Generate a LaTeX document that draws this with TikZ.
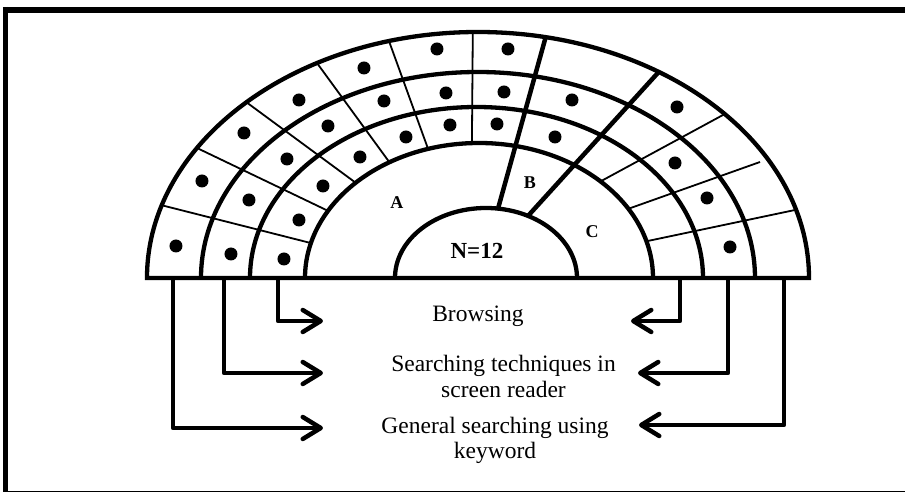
\documentclass[tikz,border=0pt]{standalone}
\usepackage{fontspec}
\setmainfont{Liberation Serif}
\usetikzlibrary{arrows.meta,calc}
\begin{document}
\begin{tikzpicture}[x=1pt,y=1pt,
  ring/.style={line width=4.3pt,line join=miter},
  cellline/.style={line width=1.8pt},
  sector/.style={line width=4.5pt},
  seat/.style={circle,fill=black,inner sep=0pt,minimum size=13pt},
  zone/.style={font=\bfseries\fontsize{18}{18}\selectfont,inner sep=0pt},
  caption/.style={align=center,font=\fontsize{23.5}{26}\selectfont,inner sep=0pt},
  link/.style={line width=4.5pt,line join=round,-{Straight Barb[length=18pt,width=22pt,round]}},
]
\useasboundingbox (-478,-214) rectangle (427,278);
% white page
\fill[white] (-478,-214) rectangle (427,278);

% frame: heavy top and left edges, hairline at the bottom
\draw[line width=6pt] (-475,268) -- (420,268) -- (427,268);
\draw[line width=5pt] (-472.5,271) -- (-472.5,-214);
\draw[line width=1.2pt] (-472.5,-213.4) -- (427,-213.4);

% rings of the half-round
\draw[ring] (-331,0) arc[start angle=180,end angle=0,x radius=331,y radius=246] -- cycle;
\draw[ring] (-277,0) arc[start angle=180,end angle=0,x radius=277,y radius=206];
\draw[ring] (-228,0) arc[start angle=180,end angle=0,x radius=226.5,y radius=171];
\draw[ring] (-173,0) arc[start angle=180,end angle=0,x radius=174,y radius=135];
\draw[ring] (-83,0) arc[start angle=180,end angle=0,x radius=91,y radius=70];

% cell dividers, left part
\draw[cellline] (162.8:331pt and 246pt) -- (164.9:174pt and 135pt);
\draw[cellline] (148.1:331pt and 246pt) -- (150.0:174pt and 135pt);
\draw[cellline] (134.4:331pt and 246pt) -- (134.9:174pt and 135pt);
\draw[cellline] (119.1:331pt and 246pt) -- (120.7:174pt and 135pt);
\draw[cellline] (105.6:331pt and 246pt) -- (106.7:174pt and 135pt);
\draw[cellline] (90.9:331pt and 246pt) -- (92.0:174pt and 135pt);

% cell dividers, right part
\draw[cellline] (41.8:331pt and 246pt) -- (45.5:174pt and 135pt);
\draw[cellline] (282,116) -- (30.7:174pt and 135pt);
\draw[cellline] (16.1:331pt and 246pt) -- (15.7:174pt and 135pt);

% sector boundaries of B
\draw[sector] (78.2:331pt and 246pt) -- ($(8,0)+(82.4:91pt and 70pt)$);
\draw[sector] (56.9:331pt and 246pt) -- ($(8,0)+(62.5:91pt and 70pt)$);

% seats, outer ring
\foreach \p [count=\i] in {(-302,32),(-276,97),(-234,145),(-179,178),(-114,210),(-41,229),(30,229),(199,171)}
  \node[seat] (outer\i) at \p {};
% seats, middle ring
\foreach \p [count=\i] in {(-247,24),(-229,78),(-191,119),(-150,152),(-94,177),(-32,185),(26,186),(94,178),(197,115),(229,80),(252,31)}
  \node[seat] (middle\i) at \p {};
% seats, inner ring
\foreach \p [count=\i] in {(-194,19),(-179,58),(-155,92),(-118,121),(-72,141),(-28,153),(19,154),(77,141)}
  \node[seat] (inner\i) at \p {};

% zone labels
\node[zone] (zoneA) at (-81,75) {A};
\node[zone] (zoneB) at (52,95) {B};
\node[zone] (zoneC) at (114,46) {C};
\node[font=\bfseries\fontsize{23}{23}\selectfont,inner sep=0pt] (core) at (-1,27) {N=12};

% captions (base anchor sits on the last line)
\node[caption,anchor=base] (browse) at (0,-44) {Browsing};
\node[caption,anchor=base] (technique) at (25.5,-120) {Searching techniques in\\screen reader};
\node[caption,anchor=base] (keyword) at (17,-181) {General searching using\\keyword};

% arrow ends
\coordinate (innerL) at (-200,0);
\coordinate (middleL) at (-254,0);
\coordinate (outerL) at (-305,0);
\coordinate (innerR) at (202,0);
\coordinate (middleR) at (250,0);
\coordinate (outerR) at (306,0);
\coordinate (browseL) at (-155,-43);
\coordinate (techniqueL) at (-155,-95);
\coordinate (keywordL) at (-155,-150);
\coordinate (browseR) at (153,-43);
\coordinate (techniqueR) at (160,-95);
\coordinate (keywordR) at (161,-147);

\draw[link] (innerL) |- (browseL);
\draw[link] (middleL) |- (techniqueL);
\draw[link] (outerL) |- (keywordL);
\draw[link] (innerR) |- (browseR);
\draw[link] (middleR) |- (techniqueR);
\draw[link] (outerR) |- (keywordR);
\end{tikzpicture}
\end{document}
